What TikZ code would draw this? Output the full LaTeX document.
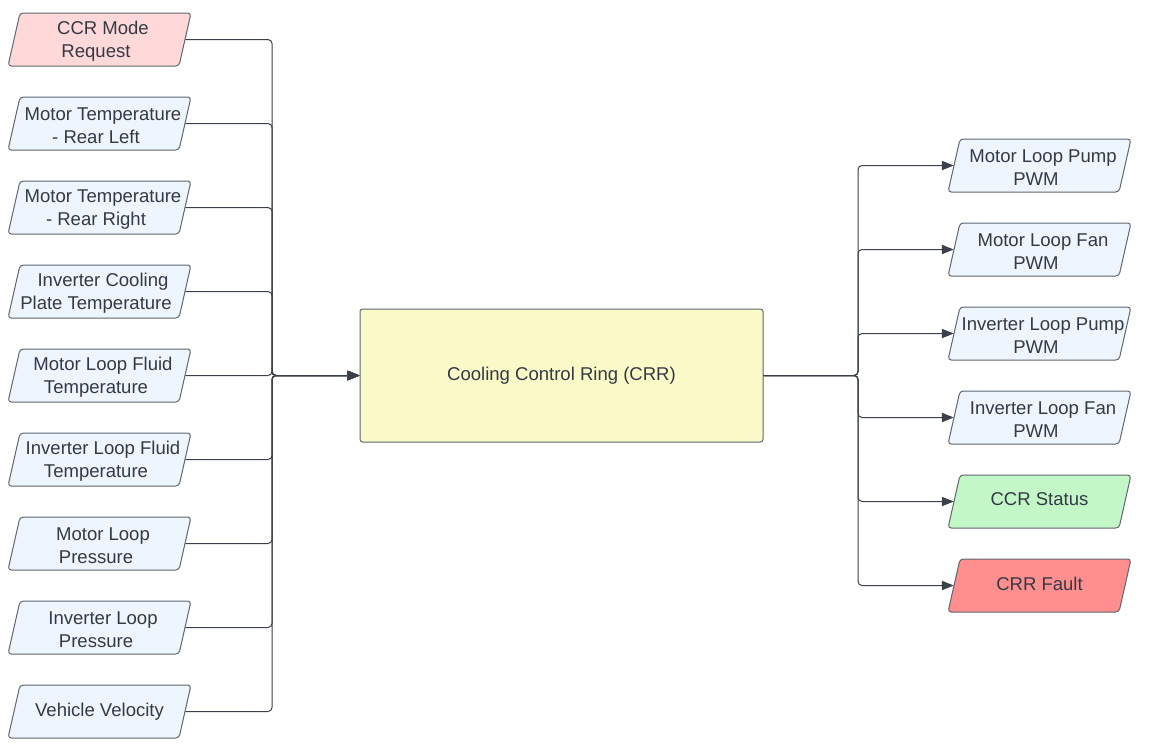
\documentclass[tikz,border=0pt]{standalone}
\usepackage{fontspec}
\setmainfont{Liberation Sans}
\usetikzlibrary{arrows.meta}
\definecolor{txt}{HTML}{333A45}
\definecolor{edge}{HTML}{5E6670}
\definecolor{wire}{HTML}{3A414A}
\definecolor{pinkf}{HTML}{FFD9D9}
\definecolor{bluef}{HTML}{EDF5FF}
\definecolor{yellowf}{HTML}{FAFAC8}
\definecolor{greenf}{HTML}{C3F7C8}
\definecolor{redf}{HTML}{FF8F8F}
\tikzset{
  pshape/.style={draw=edge, line width=0.75pt, rounded corners=2.5pt},
  ptext/.style={rectangle, minimum width=128.25pt, minimum height=39.75pt, inner sep=0pt,
    align=center, text=txt, font=\fontsize{13.9}{17.2}\selectfont},
  mainbox/.style={rectangle, draw=edge, line width=0.75pt, fill=yellowf, rounded corners=2pt,
    minimum width=302.25pt, minimum height=99.75pt, inner sep=0pt,
    text=txt, font=\fontsize{13.9}{17.2}\selectfont},
  wireline/.style={draw=wire, line width=0.75pt, rounded corners=3pt},
  arr/.style={-{Triangle[length=9pt,width=7pt]}},
}
\newcommand\pnode[5]{%
  \draw[pshape, fill=#4] ({#2-79.5},{#3-26.5}) -- ({#2+91.5},{#3-26.5}) -- ({#2+79.5},{#3+26.5}) -- ({#2-91.5},{#3+26.5}) -- cycle;
  \node[ptext] (#1) at (#2,#3) {#5};
}
% leading/trailing spacers for the slanted line offsets
\newcommand\lA{\rule{5.25pt}{0pt}}
% vertical nudges: \up raises a single line, \dn lowers a two-line block
\newcommand\up{\rule[-3pt]{0pt}{3pt}}
\newcommand\dn{\rule{0pt}{12.5pt}}
\begin{document}
\begin{tikzpicture}[x=0.75pt, y=-0.75pt]
\useasboundingbox (0,0) rectangle (1151,747);
% left inputs
\pnode{l1}{99.5}{39.5}{pinkf}{\dn\lA CCR Mode\\Request\lA}
\pnode{l2}{99.5}{123.5}{bluef}{\dn\lA Motor Temperature\\- Rear Left\lA}
\pnode{l3}{99.5}{207.5}{bluef}{\dn\lA Motor Temperature\\- Rear Right\lA}
\pnode{l4}{99.5}{291.5}{bluef}{\dn\lA Inverter Cooling\\Plate Temperature\lA}
\pnode{l5}{99.5}{375.5}{bluef}{\dn\lA Motor Loop Fluid\\Temperature\lA}
\pnode{l6}{99.5}{459.5}{bluef}{\dn\lA Inverter Loop Fluid\\Temperature\lA}
\pnode{l7}{99.5}{543.5}{bluef}{\dn\lA Motor Loop\\Pressure\lA}
\pnode{l8}{99.5}{627.5}{bluef}{\dn\lA Inverter Loop\\Pressure\lA}
\pnode{l9}{99.5}{711.5}{bluef}{\up Vehicle Velocity}
% right outputs
\pnode{r1}{1039.5}{165.5}{bluef}{\dn\lA Motor Loop Pump\\PWM\lA}
\pnode{r2}{1039.5}{249.5}{bluef}{\dn\lA Motor Loop Fan\\PWM\lA}
\pnode{r3}{1039.5}{333.5}{bluef}{\dn\lA Inverter Loop Pump\\PWM\lA}
\pnode{r4}{1039.5}{417.5}{bluef}{\dn\lA Inverter Loop Fan\\PWM\lA}
\pnode{r5}{1039.5}{501.5}{greenf}{\up CCR Status}
\pnode{r6}{1039.5}{585.5}{redf}{\up CRR Fault}
% main box
\node[mainbox] (crr) at (561.5,375.5) {\up Cooling Control Ring (CRR)};
\coordinate (jl) at (272,375.5);
\coordinate (jr) at (858,375.5);
\foreach \n in {l1,l2,l3,l4,l5,l6,l7,l8,l9}{
  \draw[wireline, arr] (\n.east) -| (jl) -- (crr.west);
}
\foreach \n in {r1,r2,r3,r4,r5,r6}{
  \draw[wireline, arr] (crr.east) -- (jr) |- (\n.west);
}
\end{tikzpicture}
\end{document}
